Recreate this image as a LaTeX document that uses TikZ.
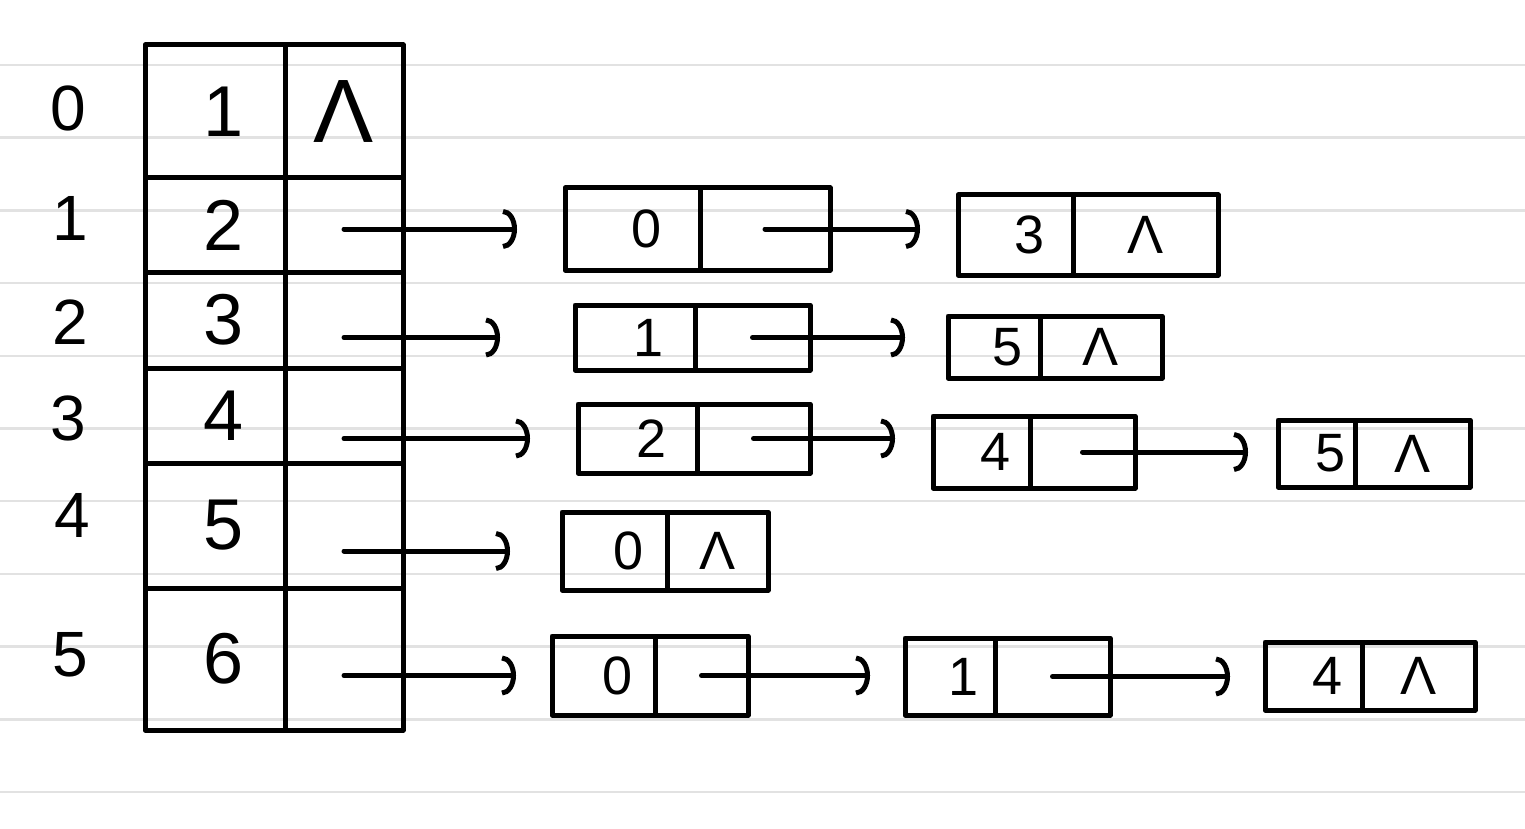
\documentclass[tikz,border=0pt]{standalone}
\usepackage{fontspec}
\setmainfont{Liberation Sans}
\usetikzlibrary{arrows.meta}
\definecolor{ruleline}{RGB}{226,226,226}

\begin{document}
\begin{tikzpicture}[x=1pt, y=-1pt,
  pen/.style={draw=black, line width=5pt, line cap=round, line join=round},
  cell/.style={pen, rectangle, inner sep=0pt, outer sep=0pt, anchor=north west},
  tabfont/.style={font=\fontsize{72}{72}\selectfont},
  listfont/.style={font=\fontsize{54}{54}\selectfont},
  idx/.style={font=\fontsize{64}{64}\selectfont, inner sep=0pt},
  ptr/.style={pen, -{Arc Barb[width=40pt, length=14pt]}},
]
% paper and ruling
\fill[white] (0,0) rectangle (1525,829);
\useasboundingbox (0,0) rectangle (1525,829);
\foreach \k in {0,...,10}
  \draw[ruleline, line width=2.5pt] (0,65+72.7*\k) -- (1525,65+72.7*\k);

% table row: name, top y, height, data, pointer
\newcommand\tabrow[5]{%
  \node[cell, tabfont, minimum width=140pt, minimum height=#3pt] (#1d) at (145,#2) {\hspace*{18pt}#4};
  \node[cell, tabfont, minimum width=118pt, minimum height=#3pt] (#1p) at (#1d.north east) {#5};
}
% list element: name, x, y, data width, pointer width, height, data, pointer
\newcommand\listelem[8]{%
  \node[cell, listfont, minimum width=#4pt, minimum height=#6pt] (#1d) at (#2,#3) {\hspace*{28pt}#7};
  \node[cell, listfont, minimum width=#5pt, minimum height=#6pt] (#1p) at (#1d.north east) {#8};
}

% vertex table
\tabrow{v0}{45}{133}{1}{\fontsize{90}{90}\selectfont Λ}
\tabrow{v1}{178}{94}{2}{}
\tabrow{v2}{272}{96}{3}{}
\tabrow{v3}{368}{95}{4}{}
\tabrow{v4}{463}{125}{5}{}
\tabrow{v5}{588}{142}{6}{}

% indices
\node[idx] (i0) at (68,108) {0};
\node[idx] (i1) at (70,218) {1};
\node[idx] (i2) at (70,322) {2};
\node[idx] (i3) at (68,418) {3};
\node[idx] (i4) at (72,515) {4};
\node[idx] (i5) at (70,655) {5};

% edge lists
\listelem{a1}{565}{188}{135}{130}{82}{0}{}
\listelem{b1}{958}{195}{115}{145}{80}{3}{Λ}
\listelem{a2}{575}{305}{120}{115}{65}{1}{}
\listelem{b2}{948}{316}{92}{122}{62}{5}{Λ}
\listelem{a3}{578}{404}{119}{113}{69}{2}{}
\listelem{b3}{933}{416}{97}{105}{72}{4}{}
\listelem{c3}{1278}{420}{77}{115}{67}{5}{Λ}
\listelem{a4}{562}{512}{105}{101}{78}{0}{Λ}
\listelem{a5}{552}{636}{103}{93}{79}{0}{}
\listelem{b5}{905}{638}{90}{115}{77}{1}{}
\listelem{c5}{1265}{642}{97}{113}{68}{4}{Λ}

% pointers from the table
\draw[ptr, shorten >=48pt] (v1p.center |- a1d.west) -- (a1d.west);
\draw[ptr, shorten >=75pt] (v2p.center |- a2d.west) -- (a2d.west);
\draw[ptr, shorten >=48pt] (v3p.center |- a3d.west) -- (a3d.west);
\draw[ptr, shorten >=52pt] (v4p.center |- a4d.west) -- (a4d.west);
\draw[ptr, shorten >=36pt] (v5p.center |- a5d.west) -- (a5d.west);

% pointers along the lists
\draw[ptr, shorten >=38pt] (a1p.center) -- (b1d.west |- a1p.center);
\draw[ptr, shorten >=43pt] (a2p.center) -- (b2d.west |- a2p.center);
\draw[ptr, shorten >=38pt] (a3p.center) -- (b3d.west |- a3p.center);
\draw[ptr, shorten >=30pt] (b3p.center) -- (c3d.west |- b3p.center);
\draw[ptr, shorten >=35pt] (a5p.center) -- (b5d.west |- a5p.center);
\draw[ptr, shorten >=35pt] (b5p.center) -- (c5d.west |- b5p.center);
\end{tikzpicture}
\end{document}
